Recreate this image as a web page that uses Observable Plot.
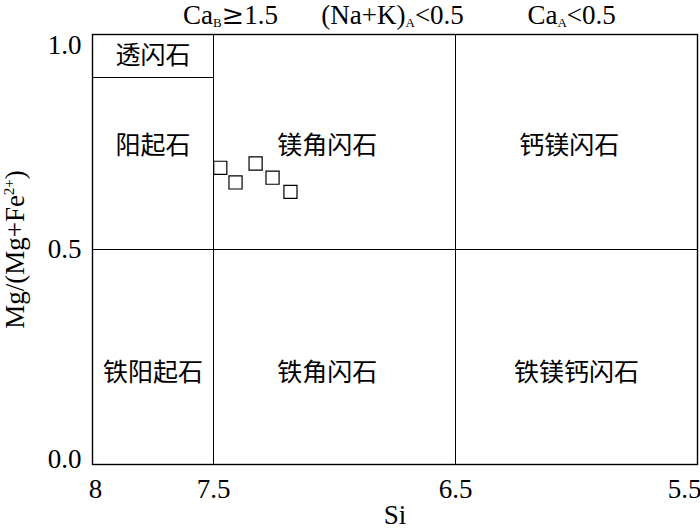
<!DOCTYPE html>
<html><head><meta charset="utf-8">
<script src="https://cdn.jsdelivr.net/npm/d3@7"></script>
<script src="https://cdn.jsdelivr.net/npm/@observablehq/plot@0.6"></script>
<style>body{margin:0;background:#fff}</style>
</head><body><div id="chart"></div>
<script>
// sample points
const sampleSi = [7.472, 7.409, 7.326, 7.256, 7.182];
const sampleMg = [0.690, 0.656, 0.700, 0.667, 0.634];

// field boundaries
const siBoundaries = [7.5, 6.5];
const mgBoundary = [0.5];
const tremoliteMg = [0.9];

// field names
const regionNames = ["透闪石", "阳起石", "镁角闪石", "钙镁闪石", "铁阳起石", "铁角闪石", "铁镁钙闪石"];
const regionSi = [7.75, 7.75, 7.03, 6.03, 7.75, 7.03, 6.0];
const regionMg = [0.95, 0.74, 0.74, 0.74, 0.212, 0.212, 0.212];

// header conditions
const headerMain = ["Ca", "(Na+K)", "Ca"];
const headerSub = ["B", "A", "A"];
const headerRest = ["≥1.5", "<0.5", "<0.5"];
const headerSi = [7.43, 6.76, 6.02];

// ticks
const xTicks = [8, 7.5, 6.5, 5.5];
const yTicks = [0.0, 0.5, 1.0];

const points = sampleSi.map((s, i) => ({si: s, mg: sampleMg[i]}));
const regions = regionNames.map((n, i) => ({name: n, si: regionSi[i], mg: regionMg[i]}));
const headers = headerMain.map((m, i) => ({t: m + "|" + headerSub[i] + "|" + headerRest[i], si: headerSi[i]}));

const FONT = "Liberation Serif, Noto Sans CJK SC, serif";
const fmtY = d3.format(".1f");
const fmtX = d => String(d);
const tx = {fontFamily: FONT, fontSize: 27, fill: "black"};
const ax = {tickSize: 0, fontFamily: FONT, fontSize: 27, label: null};

const chart = Plot.plot({
  width: 700, height: 531,
  marginLeft: 92, marginRight: 3, marginTop: 34, marginBottom: 67,
  x: {domain: [8, 5.5]},
  y: {domain: [0, 1]},
  style: {fontFamily: FONT, fontSize: "27px", color: "black", background: "white"},
  marks: [
    Plot.ruleX(siBoundaries, {stroke: "black", strokeWidth: 1}),
    Plot.ruleY(mgBoundary, {stroke: "black", strokeWidth: 1}),
    Plot.ruleY(tremoliteMg, {x1: 8, x2: 7.5, stroke: "black", strokeWidth: 1}),
    Plot.frame({stroke: "black", strokeWidth: 1.4}),
    Plot.text(regions, {x: "si", y: "mg", text: "name", fontFamily: FONT, fontSize: 25, fill: "black"}),
    Plot.dot(points, {x: "si", y: "mg", symbol: "square", r: 7.4, stroke: "black", fill: "white", strokeWidth: 1.2}),
    Plot.text(headers, {...tx, x: "si", text: "t", frameAnchor: "top", lineAnchor: "middle", textAnchor: "middle", dy: -19, className: "hdr"}),
    // axes
    Plot.axisX(xTicks.filter(d => d === 7.5 || d === 6.5), {...ax, tickPadding: 14, tickFormat: fmtX}),
    Plot.axisX(xTicks.filter(d => d === 8), {...ax, tickPadding: 14, tickFormat: fmtX, dx: 3}),
    Plot.axisX(xTicks.filter(d => d === 5.5), {...ax, tickPadding: 14, tickFormat: fmtX, dx: -13}),
    Plot.axisY(yTicks.filter(d => d === 0.5), {...ax, tickPadding: 11, tickFormat: fmtY}),
    Plot.axisY(yTicks.filter(d => d === 0), {...ax, tickPadding: 11, tickFormat: fmtY, dy: -5}),
    Plot.axisY(yTicks.filter(d => d === 1), {...ax, tickPadding: 11, tickFormat: fmtY, dy: 11}),
    Plot.text(["Si"], {...tx, frameAnchor: "bottom", lineAnchor: "middle", textAnchor: "middle", dy: 51}),
    Plot.text(["Mg/(Mg+Fe|2+|)"], {...tx, frameAnchor: "left", textAnchor: "middle", lineAnchor: "middle", rotate: -90, dx: -77, className: "ylab"})
  ]
});

// subscripts / superscripts
d3.select(chart).selectAll(".hdr text").each(function() {
  const parts = this.textContent.split("|");
  const t = d3.select(this).text("");
  t.append("tspan").text(parts[0]);
  t.append("tspan").attr("font-size", 13).attr("dy", 3).text(parts[1]);
  const rest = parts[2];
  const op = rest.slice(0, 1);
  t.append("tspan").attr("dy", -3).attr("font-family", op === "≥" ? "DejaVu Serif" : FONT).text(op);
  t.append("tspan").attr("font-family", FONT).text(rest.slice(1));
});
d3.select(chart).selectAll(".ylab text").each(function() {
  const parts = this.textContent.split("|");
  const t = d3.select(this).text("");
  t.append("tspan").text(parts[0]);
  t.append("tspan").attr("font-size", 15).attr("dy", -10).text(parts[1]);
  t.append("tspan").attr("dy", 10).text(parts[2]);
});

document.getElementById("chart").append(chart);
</script>
</body></html>
